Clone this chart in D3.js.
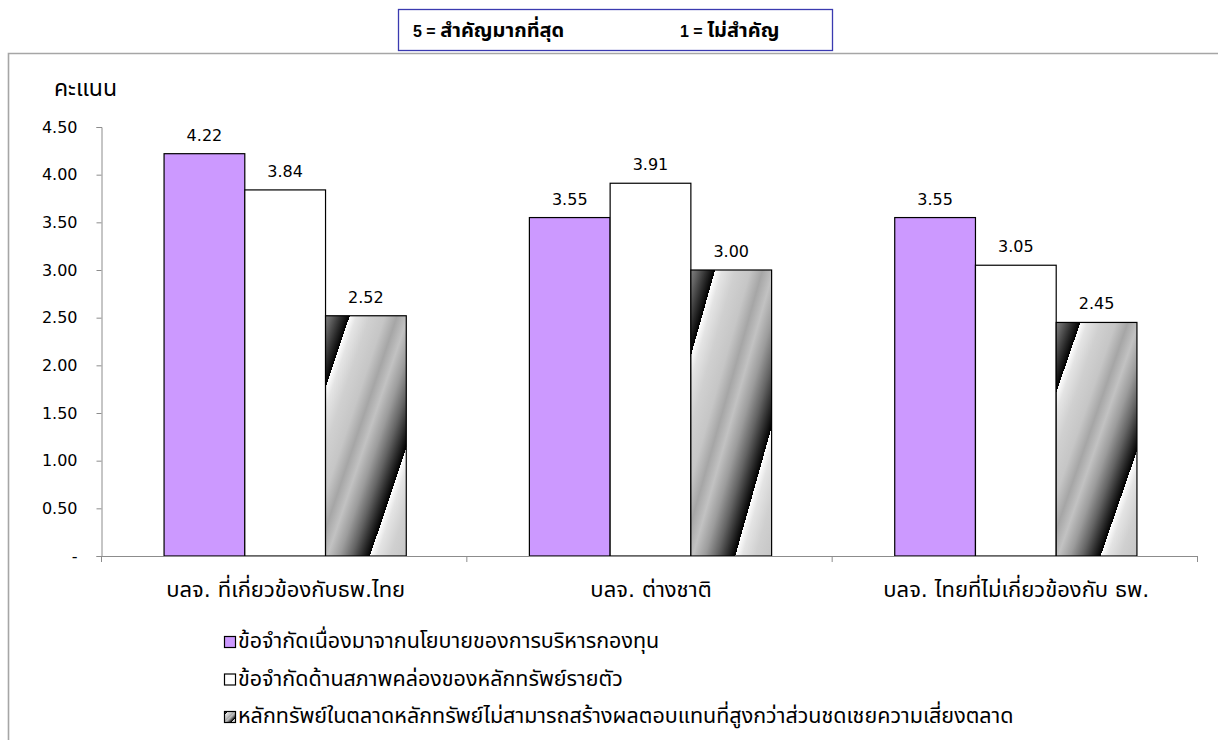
<!DOCTYPE html>
<html>
<head>
<meta charset="utf-8">
<script src="https://cdn.jsdelivr.net/npm/d3@7"></script>
<style>
  html, body { margin: 0; padding: 0; background: #fff; }
  svg { display: block; }
  .num { font-family: "DejaVu Sans", Tahoma, sans-serif; }
  .thai { font-family: "DejaVu Sans", "Noto Sans Thai", "Loma", "Garuda", sans-serif; }
</style>
</head>
<body>
<svg id="chart" width="1218" height="740"></svg>
<script>
const categories = ["บลจ. ที่เกี่ยวข้องกับธพ.ไทย", "บลจ. ต่างชาติ", "บลจ. ไทยที่ไม่เกี่ยวข้องกับ ธพ."];
const seriesNames = [
  "ข้อจำกัดเนื่องมาจากนโยบายของการบริหารกองทุน",
  "ข้อจำกัดด้านสภาพคล่องของหลักทรัพย์รายตัว",
  "หลักทรัพย์ในตลาดหลักทรัพย์ไม่สามารถสร้างผลตอบแทนที่สูงกว่าส่วนชดเชยความเสี่ยงตลาด"
];
const seriesPolicy = [4.22, 3.55, 3.55];
const seriesLiquidity = [3.84, 3.91, 3.05];
const seriesReturn = [2.52, 3.00, 2.45];
const yTicks = [0, 0.5, 1.0, 1.5, 2.0, 2.5, 3.0, 3.5, 4.0, 4.5];
const yTitle = "คะแนน";
const scaleNoteLeft = ["5 = ", "สำคัญมากที่สุด"];
const scaleNoteRight = ["1 = ", "ไม่สำคัญ"];

const allSeries = [seriesPolicy, seriesLiquidity, seriesReturn];

const svg = d3.select("#chart");
const defs = svg.append("defs");

// striped gradient (per-bar bounding box, like the spreadsheet's gradient fill)
const stripeGrad = defs.append("linearGradient").attr("id", "stripe")
  .attr("gradientUnits", "objectBoundingBox").attr("spreadMethod", "repeat")
  .attr("x1", 0.15).attr("y1", 0.15).attr("x2", 0.775).attr("y2", 0.775);
[[0, "#ffffff"], [0.07, "#e4e4e4"], [0.2, "#d0d0d0"], [0.35, "#c6c6c6"], [0.47, "#a6a6a6"],
 [0.58, "#c2c2c2"], [0.7, "#9c9c9c"], [0.82, "#646464"], [0.92, "#2c2c2c"], [1, "#000000"]]
  .forEach(s => stripeGrad.append("stop").attr("offset", s[0]).attr("stop-color", s[1]));

// chart frame
svg.append("path")
  .attr("d", "M8.5,740 L8.5,53.5 L1218,53.5")
  .attr("fill", "none").attr("stroke", "#a6a6a6").attr("stroke-width", 1.6);

// top note box
svg.append("rect").attr("x", 398.5).attr("y", 9.5).attr("width", 434).attr("height", 41)
  .attr("fill", "#fff").attr("stroke", "#3a3ab0").attr("stroke-width", 1.3);
function note(parts, xPos) {
  const t = svg.append("text").attr("x", xPos).attr("y", 37).attr("font-weight", "bold").attr("fill", "#000");
  t.append("tspan").attr("font-family", "Liberation Sans, Arial, sans-serif").attr("font-size", 16).text(parts[0]);
  t.append("tspan").attr("class", "thai").attr("font-size", 20).text(parts[1]);
}
note(scaleNoteLeft, 413);
note(scaleNoteRight, 680);

const y = d3.scaleLinear().domain([0, 4.5]).range([556, 127]);
const x0 = d3.scaleBand().domain(categories).range([101, 1197]).padding(0);
const bw = x0.bandwidth();
const gw = bw * 0.663;
const x1 = d3.scaleBand().domain([0, 1, 2]).range([(bw - gw) / 2 + 1.5, (bw + gw) / 2 + 1.5]).padding(0);

// y axis
const yAxis = d3.axisLeft(y).tickValues(yTicks).tickSize(5).tickPadding(19)
  .tickFormat(d => d === 0 ? "-" : d3.format(".2f")(d));
const gy = svg.append("g").attr("transform", "translate(101.5,0)").call(yAxis);
gy.select(".domain").attr("stroke", "#8c8c8c");
gy.selectAll(".tick line").attr("stroke", "#8c8c8c");
gy.selectAll(".tick text").attr("class", "num").attr("font-size", 16).attr("fill", "#000")
  .attr("font-family", "DejaVu Sans, sans-serif");

// y title
svg.append("text").attr("class", "thai").attr("x", 54).attr("y", 96)
  .attr("font-size", 23).attr("fill", "#000").text(yTitle);

const fills = ["#cc99ff", "#ffffff", "url(#stripe)"];

// bars
const groups = svg.append("g").selectAll("g").data(categories).join("g")
  .attr("transform", d => `translate(${x0(d)},0)`);

groups.each(function(cat, ci) {
  const g = d3.select(this);
  allSeries.forEach((ser, si) => {
    const v = ser[ci];
    const bx = x1(si);
    const by = y(v);
    g.append("rect").attr("x", bx).attr("y", by)
      .attr("width", x1.bandwidth()).attr("height", y(0) - by)
      .attr("fill", fills[si]).attr("stroke", "#000").attr("stroke-width", 1.2);
    g.append("text").attr("class", "num").attr("x", bx + x1.bandwidth() / 2).attr("y", by - 13)
      .attr("text-anchor", "middle").attr("font-size", 16).attr("fill", "#000")
      .text(d3.format(".2f")(v));
  });
});

// x axis
const gx = svg.append("g").attr("transform", "translate(0,556)");
gx.append("path").attr("d", "M101,0.5H1197").attr("stroke", "#8c8c8c").attr("fill", "none");
const bounds = [101, ...categories.map(c => x0(c) + bw)];
gx.selectAll("line.sep").data(bounds).join("line").attr("class", "sep")
  .attr("x1", d => d + 0.5).attr("x2", d => d + 0.5).attr("y1", 0).attr("y2", 6)
  .attr("stroke", "#8c8c8c");

svg.append("g").selectAll("text").data(categories).join("text")
  .attr("class", "thai").attr("x", d => x0(d) + bw / 2 + 2).attr("y", 597)
  .attr("text-anchor", "middle").attr("font-size", 22).attr("fill", "#000")
  .text(d => d);

// legend
const legFills = ["#cc99ff", "#ffffff", "url(#stripe)"];
const leg = svg.append("g").selectAll("g").data(seriesNames).join("g")
  .attr("transform", (d, i) => `translate(224,${636 + i * 37.5})`);
leg.append("rect").attr("x", 0.5).attr("y", 0.5).attr("width", 11).attr("height", 11)
  .attr("fill", (d, i) => legFills[i]).attr("stroke", "#000").attr("stroke-width", 1.2);
leg.append("text").attr("class", "thai").attr("x", 14).attr("y", 12)
  .attr("font-size", 21.5).attr("fill", "#000").text(d => d);
</script>
</body>
</html>
